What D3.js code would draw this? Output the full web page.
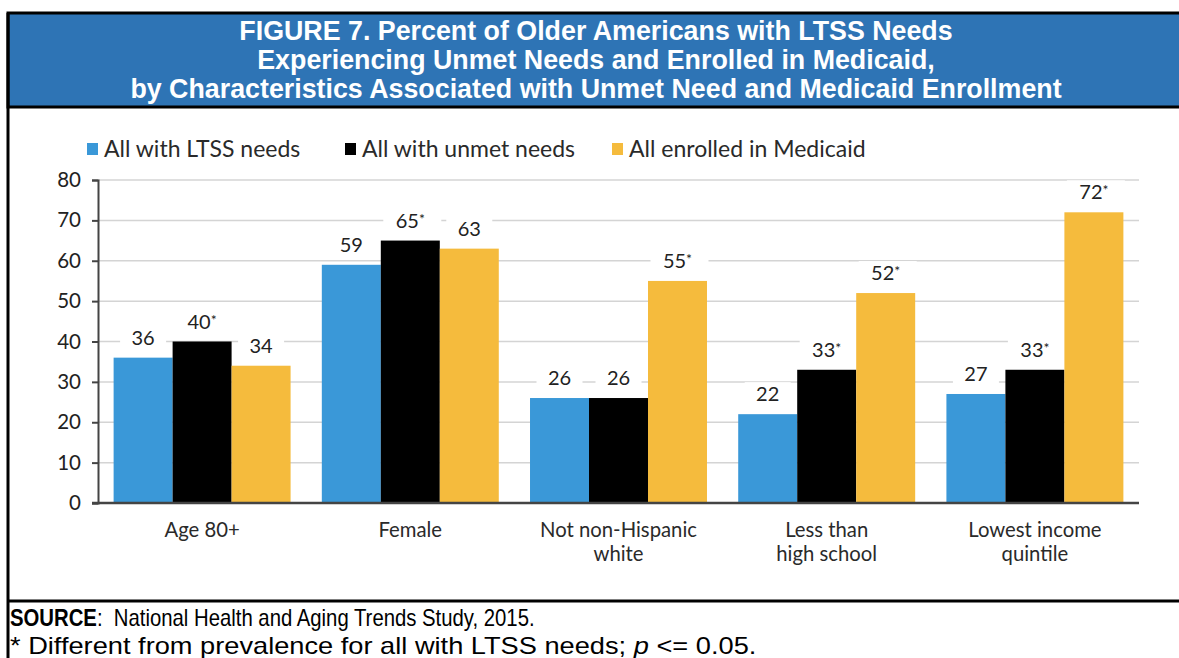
<!DOCTYPE html>
<html>
<head>
<meta charset="utf-8">
<script src="https://cdn.jsdelivr.net/npm/d3@7"></script>
<style>
html,body{margin:0;padding:0;background:#fff;}
svg{display:block;}
</style>
</head>
<body>
<svg id="chart" width="1179" height="658"></svg>
<script>
const titleLines = [
  "FIGURE 7. Percent of Older Americans with LTSS Needs",
  "Experiencing Unmet Needs and Enrolled in Medicaid,",
  "by Characteristics Associated with Unmet Need and Medicaid Enrollment"
];
const categories = [
  ["Age 80+"],
  ["Female"],
  ["Not non-Hispanic", "white"],
  ["Less than", "high school"],
  ["Lowest income", "quintile"]
];
const seriesNames = ["All with LTSS needs", "All with unmet needs", "All enrolled in Medicaid"];
const ltss = [36, 59, 26, 22, 27];
const unmet = [40, 65, 26, 33, 33];
const medicaid = [34, 63, 55, 52, 72];
const ltssSig = [false, false, false, false, false];
const unmetSig = [true, true, false, true, true];
const medicaidSig = [false, false, true, true, true];
const yTicks = [0, 10, 20, 30, 40, 50, 60, 70, 80];
const sourceLabel = "SOURCE";
const sourceText = "National Health and Aging Trends Study, 2015.";
const noteText = ["* Different from prevalence for all with LTSS needs; ", "p", " <= 0.05."];

const colors = ["#3a98d8", "#000000", "#f5bb3d"];
const seriesValues = [ltss, unmet, medicaid];
const seriesSig = [ltssSig, unmetSig, medicaidSig];

const svg = d3.select("#chart");

// Title box
svg.append("rect").attr("x", 8).attr("y", 13).attr("width", 1200).attr("height", 94)
  .attr("fill", "#2e74b5").attr("stroke", "#000").attr("stroke-width", 3);
svg.append("g").selectAll("text").data(titleLines).join("text")
  .attr("x", 596).attr("y", (d, i) => 40 + i * 29)
  .attr("text-anchor", "middle")
  .attr("font-family", "'Liberation Sans', Arial, sans-serif")
  .attr("font-weight", "bold").attr("font-size", 26.8).attr("fill", "#fff")
  .text(d => d);

// frame lines
svg.append("line").attr("x1", 8).attr("x2", 8).attr("y1", 13).attr("y2", 660).attr("stroke", "#000").attr("stroke-width", 3);
svg.append("line").attr("x1", 8).attr("x2", 1200).attr("y1", 601).attr("y2", 601).attr("stroke", "#000").attr("stroke-width", 3);

// Scales
const x0 = d3.scaleBand().domain(d3.range(categories.length)).range([98, 1139]).paddingInner(0.15).paddingOuter(0.075);
const x1 = d3.scaleBand().domain(d3.range(3)).range([0, x0.bandwidth()]);
const y = d3.scaleLinear().domain([0, 80]).range([503, 180]);

const font = "Lato, 'Open Sans', sans-serif";

// gridlines
svg.append("g").selectAll("line").data(yTicks.filter(t => t > 0)).join("line")
  .attr("x1", 98).attr("x2", 1139).attr("y1", d => y(d)).attr("y2", d => y(d))
  .attr("stroke", "#d4d4d4").attr("stroke-width", 1.5);

// y axis
const yAxis = d3.axisLeft(y).tickValues(yTicks).tickSize(6).tickPadding(11);
const ya = svg.append("g").attr("transform", "translate(98,0)").call(yAxis);
ya.select(".domain").attr("stroke", "#444").attr("stroke-width", 2);
ya.selectAll(".tick line").attr("stroke", "#444").attr("stroke-width", 2);
ya.selectAll(".tick text").attr("font-family", font).attr("font-size", 20.5).attr("fill", "#222");

const cells = (d, i) => seriesValues.map((s, k) => ({k, v: s[i], sig: seriesSig[k][i]}));
const groups = svg.append("g").selectAll("g").data(categories).join("g")
  .attr("transform", (d, i) => `translate(${x0(i)},0)`);

// label backgrounds (white gaps in gridlines), drawn beneath bars
groups.selectAll("rect.bg").data(cells).join("rect").attr("class", "bg")
  .attr("x", d => x1(d.k) + x1.bandwidth() / 2 + (d.sig ? -27 : -23))
  .attr("width", d => d.sig ? 58 : 46)
  .attr("y", d => y(d.v) - 32).attr("height", 25).attr("fill", "#fff");

// Bars
groups.selectAll("rect.bar").data(cells).join("rect").attr("class", "bar")
  .attr("x", d => x1(d.k)).attr("width", x1.bandwidth())
  .attr("y", d => y(d.v)).attr("height", d => y(0) - y(d.v))
  .attr("fill", d => colors[d.k]);

// baseline
svg.append("line").attr("x1", 92).attr("x2", 1139).attr("y1", y(0)).attr("y2", y(0)).attr("stroke", "#444").attr("stroke-width", 2.5);

// value labels
const lt = groups.selectAll("text.lab").data(cells).join("text").attr("class", "lab")
  .attr("x", d => x1(d.k) + x1.bandwidth() / 2).attr("y", d => y(d.v) - 13)
  .attr("text-anchor", "middle")
  .attr("font-family", font).attr("font-size", 20).attr("fill", "#222");
lt.append("tspan").text(d => d.v);
lt.filter(d => d.sig).append("tspan").attr("font-size", 14).attr("dy", -4).text("*");

// category labels
const cl = svg.append("g").selectAll("text").data(categories).join("text")
  .attr("x", (d, i) => x0(i) + x0.bandwidth() / 2).attr("y", 537)
  .attr("text-anchor", "middle").attr("font-family", font).attr("font-size", 20.3).attr("fill", "#2a2a2a");
cl.selectAll("tspan").data(d => d).join("tspan")
  .attr("x", function () { return d3.select(this.parentNode).attr("x"); })
  .attr("dy", (d, i) => i === 0 ? 0 : 24).text(d => d);

// legend
const legX = [87, 345, 612];
const leg = svg.append("g").selectAll("g").data(seriesNames).join("g")
  .attr("transform", (d, i) => `translate(${legX[i]},149)`);
leg.append("rect").attr("x", 0).attr("y", -6).attr("width", 11).attr("height", 12).attr("fill", (d, i) => colors[i]);
leg.append("text").attr("x", 17).attr("y", 8).attr("font-family", font).attr("font-size", 23)
  .attr("fill", "#2a2a2a").text(d => d);

// Source (fitted Arial-like text)
const sf = "'Liberation Sans', Arial, sans-serif";
function fitText(sel, target) {
  const w = sel.node().getComputedTextLength();
  const sx = target / w;
  sel.attr("transform", `translate(10,${sel.attr("data-y")}) scale(${sx},1)`);
}
const s1 = svg.append("text").attr("x", 0).attr("y", 0).attr("data-y", 626)
  .attr("font-family", sf).attr("font-size", 23).attr("fill", "#000")
  .style("white-space", "pre");
s1.append("tspan").attr("font-weight", "bold").text(sourceLabel);
s1.append("tspan").text(":  " + sourceText);
fitText(s1, 525);
const s2 = svg.append("text").attr("x", 0).attr("y", 0).attr("data-y", 654)
  .attr("font-family", sf).attr("font-size", 23).attr("fill", "#000")
  .style("white-space", "pre");
s2.append("tspan").text(noteText[0]);
s2.append("tspan").attr("font-style", "italic").text(noteText[1]);
s2.append("tspan").text(noteText[2]);
fitText(s2, 747);
</script>
</body>
</html>
